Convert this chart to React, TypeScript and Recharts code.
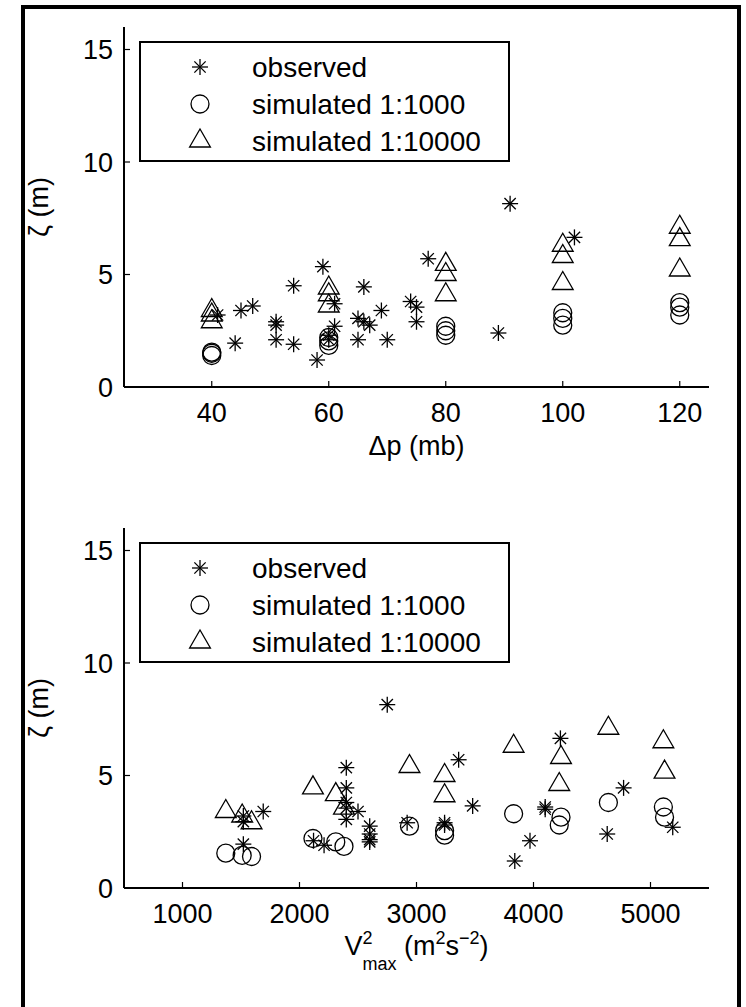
import React from 'react'
import { ScatterChart, Scatter, XAxis, YAxis, Legend } from 'recharts'

// top panel: surge height vs pressure drop
const dpTicks = [40, 60, 80, 100, 120]
const obsDp = [41, 44, 45, 47, 51, 51, 51, 54, 54, 58, 59, 60, 60, 61, 61, 65, 65, 66, 66, 67, 69, 70, 74, 75, 75, 77, 89, 91, 102]
const obsZetaDp = [3.2, 1.95, 3.4, 3.6, 2.9, 2.75, 2.1, 4.5, 1.9, 1.2, 5.35, 2.3, 2.1, 3.7, 2.7, 3.05, 2.1, 4.45, 2.9, 2.75, 3.4, 2.1, 3.8, 3.55, 2.9, 5.7, 2.4, 8.15, 6.65]
const simDp = [40, 40, 40, 60, 60, 60, 80, 80, 80, 100, 100, 100, 120, 120, 120]
const sim1000ZetaDp = [1.55, 1.5, 1.4, 2.2, 2.05, 1.85, 2.7, 2.5, 2.3, 3.3, 3.05, 2.75, 3.75, 3.55, 3.2]
const sim10000ZetaDp = [3.4, 3.2, 2.9, 4.4, 4.1, 3.6, 5.45, 5.0, 4.1, 6.3, 5.8, 4.6, 7.1, 6.55, 5.2]

// bottom panel: surge height vs Vmax^2
const v2Ticks = [1000, 2000, 3000, 4000, 5000]
const obsV2 = [1520, 1520, 1520, 1690, 2120, 2210, 2400, 2400, 2400, 2400, 2400, 2500, 2600, 2600, 2600, 2600, 2750, 2920, 3240, 3240, 3360, 3480, 3840, 3970, 4100, 4100, 4230, 4630, 4770, 5190]
const obsZetaV2 = [3.2, 2.95, 1.95, 3.4, 2.1, 1.9, 5.35, 4.45, 3.8, 3.55, 3.05, 3.4, 2.75, 2.4, 2.15, 2.05, 8.15, 2.9, 2.9, 2.8, 5.7, 3.65, 1.2, 2.1, 3.6, 3.5, 6.65, 2.4, 4.45, 2.7]
const simV2 = [1370, 1510, 1590, 2115, 2310, 2380, 2940, 3240, 3240, 3830, 4235, 4220, 4640, 5110, 5120]
const sim1000ZetaV2 = [1.55, 1.45, 1.4, 2.2, 2.05, 1.85, 2.75, 2.55, 2.35, 3.3, 3.15, 2.8, 3.8, 3.6, 3.15]
const sim10000ZetaV2 = [3.4, 3.2, 2.9, 4.45, 4.15, 3.55, 5.4, 5.0, 4.1, 6.3, 5.8, 4.6, 7.1, 6.5, 5.15]

const zetaTicks = [0, 5, 10, 15]
const seriesNames = ['observed', 'simulated 1:1000', 'simulated 1:10000']

const FONT = '"Liberation Sans", Arial, Helvetica, sans-serif'
const FS = 27

const pts = (xs: number[], ys: number[]) => xs.map((x, i) => ({ x, y: ys[i] }))

const Star = ({ cx, cy }: any) => {
  const r = 8
  const d = r * 0.707
  return (
    <g stroke="#000" strokeWidth={1.3}>
      <line x1={cx - r} y1={cy} x2={cx + r} y2={cy} />
      <line x1={cx} y1={cy - r} x2={cx} y2={cy + r} />
      <line x1={cx - d} y1={cy - d} x2={cx + d} y2={cy + d} />
      <line x1={cx - d} y1={cy + d} x2={cx + d} y2={cy - d} />
    </g>
  )
}

const Circle = ({ cx, cy }: any) => (
  <circle cx={cx} cy={cy} r={9} fill="none" stroke="#000" strokeWidth={1.3} />
)

const Triangle = ({ cx, cy }: any) => {
  const r = 12
  return (
    <polygon
      points={`${cx},${cy - r} ${cx - r * 0.866},${cy + r / 2} ${cx + r * 0.866},${cy + r / 2}`}
      fill="none"
      stroke="#000"
      strokeWidth={1.3}
    />
  )
}

const markers = [Star, Circle, Triangle]

function LegendBox() {
  return (
    <svg width={371} height={121} style={{ display: 'block' }}>
      <rect x={1} y={1} width={369} height={119} fill="#fff" stroke="#000" strokeWidth={2} />
      {seriesNames.map((name, i) => {
        const M = markers[i]
        const cy = 26 + i * 37
        return (
          <g key={name}>
            <M cx={61} cy={cy} />
            <text x={113} y={cy + 10} fontSize={28} fontFamily={FONT} fill="#000">{name}</text>
          </g>
        )
      })}
    </svg>
  )
}

const axisLine = { stroke: '#000', strokeWidth: 2 }
const tickLine = { stroke: '#000', strokeWidth: 1.2 }
const tickStyle = { fill: '#000', fontSize: FS, fontFamily: FONT }

function ZetaLabel({ viewBox }: any) {
  const vb = viewBox || { x: 0, y: 27, width: 124, height: 360 }
  const cy = vb.y + vb.height / 2
  return (
    <text x={48} y={cy} transform={`rotate(-90 48 ${cy})`} textAnchor="middle" fontSize={FS} fontFamily={FONT} fill="#000">
      ζ (m)
    </text>
  )
}

function DpLabel({ viewBox }: any) {
  const vb = viewBox || { x: 124, y: 387, width: 585, height: 80 }
  return (
    <text x={vb.x + vb.width / 2} y={vb.y + 68} textAnchor="middle" fontSize={FS} fontFamily={FONT} fill="#000">
      Δp (mb)
    </text>
  )
}

function V2Label({ viewBox }: any) {
  const vb = viewBox || { x: 124, y: 387, width: 585, height: 80 }
  return (
    <text x={vb.x + vb.width / 2} y={vb.y + 67} textAnchor="middle" fontSize={FS} fontFamily={FONT} fill="#000">
      <tspan>V</tspan>
      <tspan fontSize={18} dy={-11}>2</tspan>
      <tspan fontSize={18} dx={-10} dy={26}>max</tspan>
      <tspan dy={-15}>{' (m'}</tspan>
      <tspan fontSize={18} dy={-11}>2</tspan>
      <tspan dy={11}>s</tspan>
      <tspan fontSize={18} dy={-11}>{'\u22122'}</tspan>
      <tspan dy={11}>)</tspan>
    </text>
  )
}

function Panel({ xDomain, xTicks, xLabel, obs, sim1000, sim10000 }: any) {
  return (
    <ScatterChart width={746} height={480} margin={{ top: 27, right: 37, bottom: 13, left: 0 }} style={{ fontFamily: FONT }}>
      <XAxis
        xAxisId="b" type="number" dataKey="x" domain={xDomain} ticks={xTicks} allowDataOverflow
        orientation="bottom" height={80} tickSize={-6} tickMargin={22}
        axisLine={axisLine} tickLine={tickLine} tick={tickStyle} label={{ content: xLabel }}
      />
      <XAxis
        xAxisId="t" type="number" domain={xDomain} ticks={xTicks} allowDataOverflow
        orientation="top" height={0} tickSize={-6} tick={false}
        axisLine={axisLine} tickLine={tickLine}
      />
      <YAxis
        yAxisId="l" type="number" dataKey="y" domain={[0, 16]} ticks={zetaTicks} allowDataOverflow
        width={124} tickSize={-6} tickMargin={17}
        axisLine={axisLine} tickLine={tickLine} tick={tickStyle} label={{ content: ZetaLabel }}
      />
      <YAxis
        yAxisId="r" type="number" domain={[0, 16]} ticks={zetaTicks} allowDataOverflow
        orientation="right" width={0} tickSize={-6} tick={false}
        axisLine={axisLine} tickLine={tickLine}
      />
      <Legend
        layout="vertical" align="center" verticalAlign="middle"
        wrapperStyle={{ left: 139, top: 41, width: 371, height: 121 }}
        content={() => <LegendBox />}
      />
      <Scatter name={seriesNames[0]} xAxisId="b" yAxisId="l" data={obs} shape={Star} isAnimationActive={false} />
      <Scatter name={seriesNames[1]} xAxisId="b" yAxisId="l" data={sim1000} shape={Circle} isAnimationActive={false} />
      <Scatter name={seriesNames[2]} xAxisId="b" yAxisId="l" data={sim10000} shape={Triangle} isAnimationActive={false} />
    </ScatterChart>
  )
}

export default function App() {
  return (
    <div style={{ position: 'absolute', left: 0, top: 0, width: 746, height: 1007, overflow: 'hidden', background: '#fff', fontFamily: FONT }}>
      <div style={{ position: 'absolute', left: 21, top: 5, width: 720, height: 1040, border: '4px solid #000', boxSizing: 'border-box' }} />
      <div style={{ position: 'absolute', left: 0, top: 0 }}>
        <Panel
          xDomain={[25, 125]} xTicks={dpTicks} xLabel={DpLabel}
          obs={pts(obsDp, obsZetaDp)} sim1000={pts(simDp, sim1000ZetaDp)} sim10000={pts(simDp, sim10000ZetaDp)}
        />
      </div>
      <div style={{ position: 'absolute', left: 0, top: 501 }}>
        <Panel
          xDomain={[500, 5500]} xTicks={v2Ticks} xLabel={V2Label}
          obs={pts(obsV2, obsZetaV2)} sim1000={pts(simV2, sim1000ZetaV2)} sim10000={pts(simV2, sim10000ZetaV2)}
        />
      </div>
    </div>
  )
}
